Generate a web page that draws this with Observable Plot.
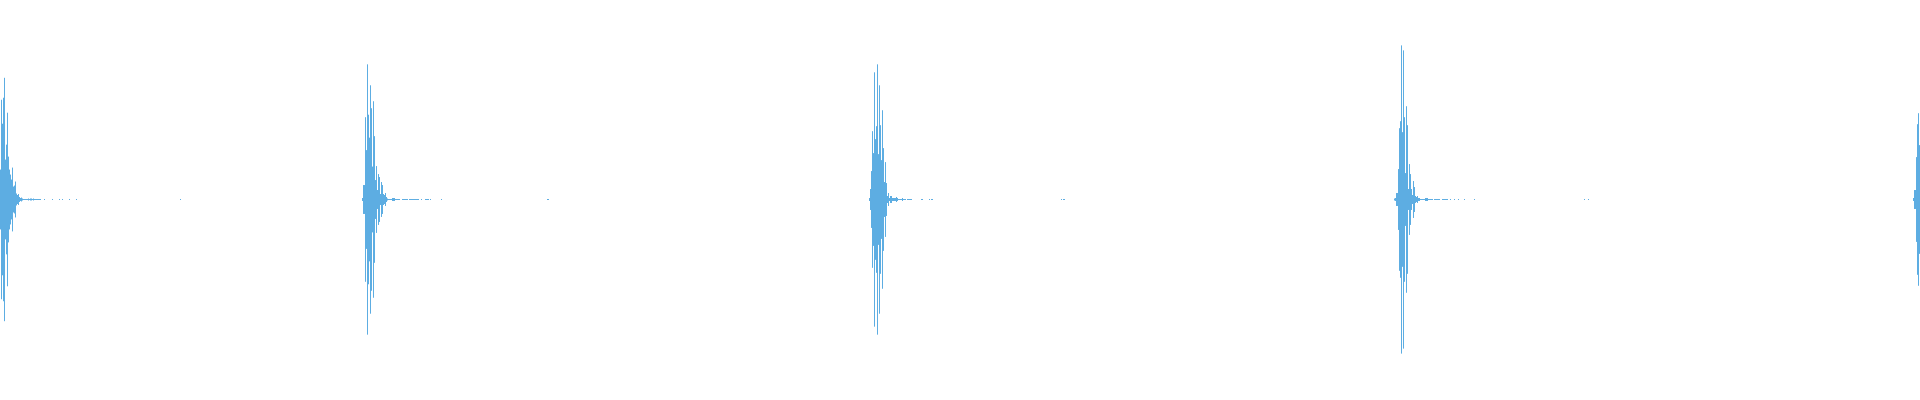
<!DOCTYPE html>
<html>
<head>
<meta charset="utf-8">
<script src="https://cdn.jsdelivr.net/npm/d3@7"></script>
<script src="https://cdn.jsdelivr.net/npm/@observablehq/plot@0.6"></script>
<style>
  html, body { margin: 0; padding: 0; background: #fff; }
  #chart svg { display: block; }
</style>
</head>
<body>
<div id="chart"></div>
<script>
// Onset (column index) of each burst
const onsets = [0, 362, 869, 1394, 1913];

// Envelope amplitudes (half-height, units of 1/200 full scale) per column, from each onset
const burst1 = [30, 100, 76, 102, 122, 40, 55, 87, 43, 30, 25, 20, 32, 13, 14, 18, 6, 4.5, 5.5, 2.5, 1.5, 2,
  1, 0.5, 0.5, 0.5, 0.5, 0.5, 1, 0.5, 1, 1, 0.5, 1, 0.5, 0.5, 0.5, 0.5, 0.5, 0.5, 0.5];
const burst2 = [1.5, 14.5, 14.5, 82.5, 49.5, 135.5, 85, 62, 114.5, 91.5, 33, 98.5, 63.5, 19.5, 33.5, 9.5, 25.5, 22.5,
  5.5, 17.5, 14.5, 5.5, 4.5, 6.5, 2.5, 1, 0.5, 0.5, 0.5, 0.5, 1.5, 1.5, 1.5, 0.5, 0.5, 0.5, 0.5, 0.5];
const burst3 = [1.5, 10.5, 28.5, 68.5, 46.5, 127.5, 60.5, 73.5, 135.5, 45.5, 114.5, 74.5, 39.5, 89.5, 51.5, 17.5, 37.5,
  16.5, 3.5, 6.5, 1.5, 3.5, 3.5, 1.5, 1.5, 1.5, 1.5, 2.5, 1.5, 0.5, 0.5, 0.5, 0.5, 1.5, 0.5, 0.5, 0.5];
const burst4 = [1, 1.5, 6.5, 6.5, 30.5, 71.5, 78.5, 154.5, 67.5, 149.5, 82.5, 26.5, 93.5, 74.5, 10.5, 35.5, 25.5, 10.5,
  4.5, 18.5, 12.5, 3.5, 2.5, 3.5, 1.5, 1.5, 0.5, 0.5, 0.5, 0.5, 0.5, 1.5, 1.5, 1.5, 0.5, 0.5, 0.5, 0.5, 0.5];
const burst5 = [1.5, 9.5, 9.5, 42.5, 75.5, 86.5, 54.5];

// Isolated low-level sample columns (faint echoes)
const echoColumns = [44, 52, 59, 62, 69, 76, 180,
  402, 403, 404, 405, 406, 407, 409, 410, 411, 412, 413, 414, 415, 416, 417, 418, 421, 425, 426, 427, 428, 430, 441, 547, 548,
  907, 908, 909, 910, 911, 921, 922, 929, 931, 932, 1061, 1063, 1064,
  1434, 1435, 1436, 1437, 1438, 1439, 1442, 1443, 1444, 1445, 1446, 1447, 1450, 1454, 1458, 1464, 1474, 1584, 1588];
const echoAmp = 0.5;

const bursts = [burst1, burst2, burst3, burst4, burst5];
const rows = [];
bursts.forEach((env, i) => env.forEach((a, k) => rows.push({t: onsets[i] + k, a})));
echoColumns.forEach(t => rows.push({t, a: echoAmp}));

const chart = Plot.plot({
  width: 1920,
  height: 400,
  marginTop: 0,
  marginRight: 0,
  marginLeft: 0,
  marginBottom: 1,
  x: {domain: [0, 1920], axis: null},
  y: {domain: [-200, 200], axis: null},
  marks: [
    Plot.ruleX(rows, {x: "t", y1: d => -d.a, y2: "a", stroke: "#5dade2", strokeWidth: 1})
  ]
});
document.getElementById("chart").appendChild(chart);
</script>
</body>
</html>
